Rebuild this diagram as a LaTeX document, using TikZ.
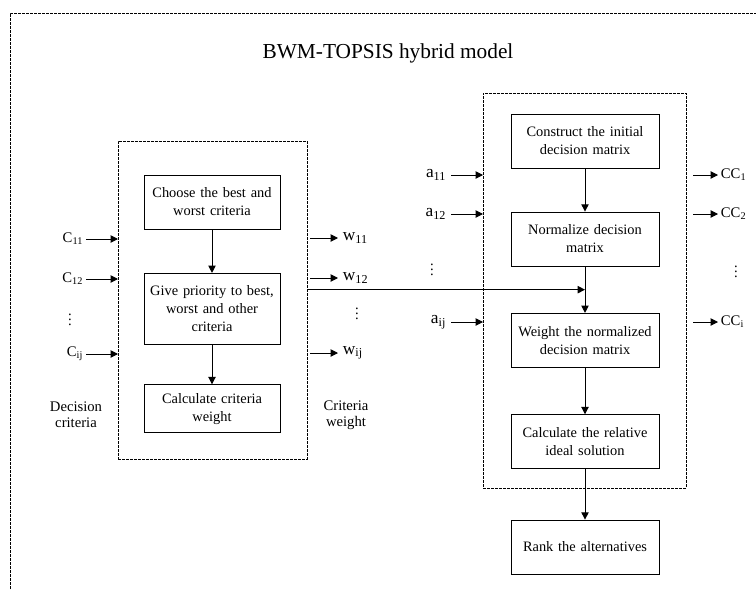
\documentclass[tikz,border=0pt]{standalone}
\usepackage{fontspec}
\setmainfont{Liberation Serif}
\usetikzlibrary{shapes,arrows,arrows.meta}

\begin{document}
\begin{tikzpicture}[x=0.75pt, y=-0.75pt, node distance=75pt, auto]
        \tikzstyle{block} = [rectangle, draw, line width=0.6pt, text width=94pt, inner xsep=3pt, minimum width=102pt, align=center, minimum height=40.5pt, font=\fontsize{10.8}{13.5}\selectfont]
        \tikzstyle{wide} = [block, text width=104pt, minimum width=111pt]
        \tikzstyle{dashbox} = [rectangle, draw, line width=0.5pt, dash pattern=on 2pt off 1pt, inner sep=0pt, outer sep=0pt]
        \tikzstyle{tag} = [font=\fontsize{11}{12}\selectfont, inner sep=2pt]
        \tikzstyle{bigtag} = [tag, font=\fontsize{13}{14}\selectfont, inner xsep=3.5pt]
        \tikzstyle{line} = [draw, line width=0.75pt, -{Triangle[length=5.5pt, width=5.5pt]}]

    \useasboundingbox (0,0) rectangle (756,589);
    \draw [line width=0.5pt, dash pattern=on 2pt off 1pt] (10,589) -- (10,13) -- (756,13);

    \node (title) at (388,53) {\fontsize{16}{19}\selectfont BWM-TOPSIS hybrid model};

    \node [dashbox, minimum width=141.75pt, minimum height=238.5pt] (bwm) at (212.5,300) {};
    \node [block] (best worst) at (212,202) {Choose the best and\\worst criteria};
    \node [block, below of=best worst, node distance=80pt, minimum height=53pt] (priority) {Give priority to best,\\worst and other\\criteria};
    \node [block, below of=priority, node distance=75pt, minimum height=36pt] (criteria weight) {Calculate criteria\\weight};

    \path [line] (best worst) -- (priority);
    \path [line] (priority) -- (criteria weight);

    \node [tag, anchor=east] (c11) at (86,239) {C\textsubscript{11}};
    \node [tag, anchor=east] (c12) at (86,279) {C\textsubscript{12}};
    \node [tag] (c dots) at (70,316) {$\vdots$};
    \node [tag, anchor=east] (cij) at (86,354) {C\textsubscript{ij}};
    \node [tag, align=center] (decision criteria) at (76,415) {Decision\\criteria};

    \path [line] (c11) -- (c11 -| bwm.west);
    \path [line] (c12) -- (c12 -| bwm.west);
    \path [line] (cij) -- (cij -| bwm.west);

    \node [bigtag, anchor=west] (w11) at (338,238) {w\textsubscript{11}};
    \node [bigtag, anchor=west] (w12) at (338,278) {w\textsubscript{12}};
    \node [tag] (w dots) at (357,310) {$\vdots$};
    \node [bigtag, anchor=west] (wij) at (338,353) {w\textsubscript{ij}};
    \node [tag, align=center] (criteria label) at (346,415) {Criteria\\weight};

    \path [line] (w11 -| bwm.east) ++(3,0) -- (w11);
    \path [line] (w12 -| bwm.east) ++(3,0) -- (w12);
    \path [line] (wij -| bwm.east) ++(3,0) -- (wij);

    \node [dashbox, minimum width=152.25pt, minimum height=296.25pt] (topsis) at (584.5,290.5) {};
    \node [wide] (initial matrix) at (585,141) {Construct the initial\\decision matrix};
    \node [wide, below of=initial matrix, node distance=73.5pt] (normalize) {Normalize decision\\matrix};
    \node [wide, below of=normalize, node distance=76pt] (weighted) {Weight the normalized\\decision matrix};
    \node [wide, below of=weighted, node distance=76pt] (relative) {Calculate the relative\\ideal solution};
    \node [wide, below of=relative, node distance=79pt] (rank) {Rank the alternatives};

    \path [line] (initial matrix) -- (normalize);
    \path [line] (normalize) -- (weighted);
    \path [line] (weighted) -- (relative);
    \path [line] (relative) -- (rank);
    \path (normalize) -- coordinate [midway] (merge) (weighted);
    \path [line] (merge -| bwm.east) -- (merge);

    \node [bigtag, anchor=east] (a11) at (451,175) {a\textsubscript{11}};
    \node [bigtag, anchor=east] (a12) at (451,214) {a\textsubscript{12}};
    \node [tag] (a dots) at (432,266) {$\vdots$};
    \node [bigtag, anchor=east] (aij) at (451,322) {a\textsubscript{ij}};

    \path [line] (a11.east) -- (a11 -| topsis.west);
    \path [line] (a12.east) -- (a12 -| topsis.west);
    \path [line] (aij.east) -- (aij -| topsis.west);

    \node [tag, anchor=west] (cc1) at (718,175) {CC\textsubscript{1}};
    \node [tag, anchor=west] (cc2) at (718,214) {CC\textsubscript{2}};
    \node [tag] (cc dots) at (736,268) {$\vdots$};
    \node [tag, anchor=west] (cci) at (718,322) {CC\textsubscript{i}};

    \path [line] (cc1 -| topsis.east) ++(7,0) -- (cc1);
    \path [line] (cc2 -| topsis.east) ++(7,0) -- (cc2);
    \path [line] (cci -| topsis.east) ++(7,0) -- (cci);
    \end{tikzpicture}
\end{document}
